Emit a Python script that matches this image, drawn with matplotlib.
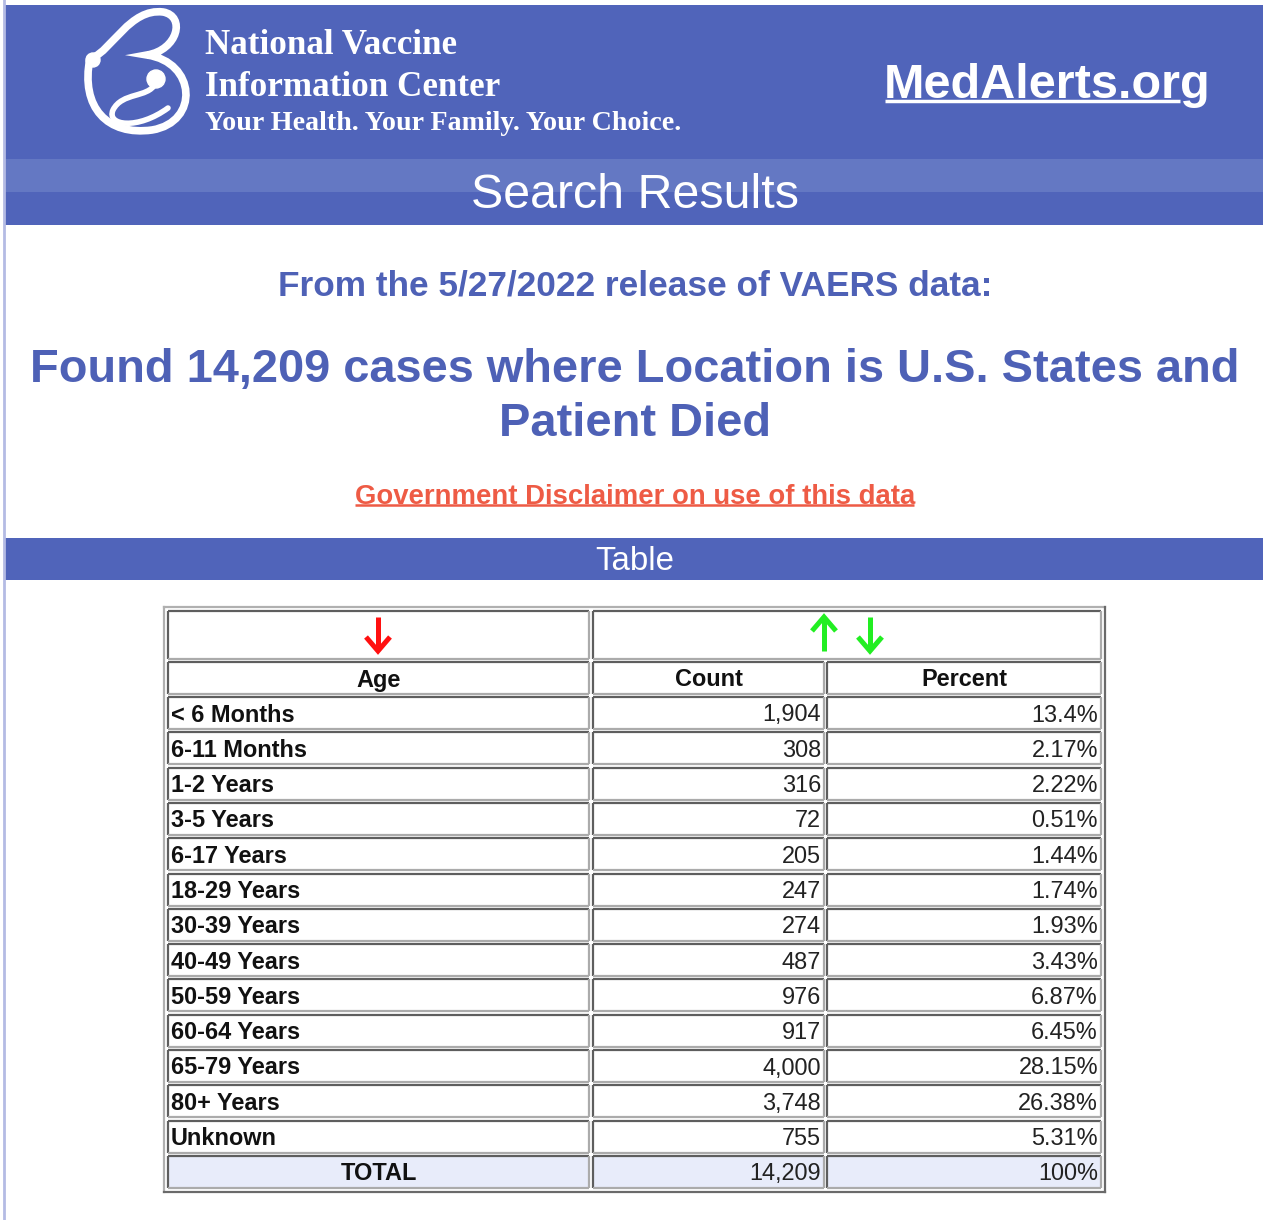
import matplotlib.pyplot as plt
from matplotlib.path import Path
from matplotlib.patches import PathPatch, Rectangle, Circle

# table data read from the page
ages = ["< 6 Months", "6-11 Months", "1-2 Years", "3-5 Years", "6-17 Years",
        "18-29 Years", "30-39 Years", "40-49 Years", "50-59 Years",
        "60-64 Years", "65-79 Years", "80+ Years", "Unknown"]
counts = [1904, 308, 316, 72, 205, 247, 274, 487, 976, 917, 4000, 3748, 755]
percents = [13.4, 2.17, 2.22, 0.51, 1.44, 1.74, 1.93, 3.43, 6.87, 6.45, 28.15, 26.38, 5.31]
total_count = 14209
total_percent = 100

release = "5/27/2022"
headline = ["Found 14,209 cases where Location is U.S. States and", "Patient Died"]

BLUE = "#5064BA"
BAND = "#6478C3"
HEAD_BLUE = "#4E61B6"
RED_LINK = "#EE5B45"
SANS = "Liberation Sans"
SERIF = "Liberation Serif"

W, H = 1263, 1220
fig = plt.figure(figsize=(W / 100, H / 100), dpi=100)
ax = fig.add_axes([0, 0, 1, 1])
ax.set_xlim(0, W)
ax.set_ylim(H, 0)
ax.axis("off")


def px(size):
    # pixel height -> points at dpi 100
    return size * 0.72


# page frame and header
ax.add_patch(Rectangle((4, 5), W - 4, 220, color=BLUE, lw=0))
ax.add_patch(Rectangle((4, 159), W - 4, 33, color=BAND, lw=0))
ax.plot([3.5, 3.5], [0, H], color="#B4BBE4", lw=2)

# logo, rough white strokes
verts = [(92, 58), (112, 50), (130, 8), (163, 12),
         (186, 16), (178, 50), (147, 55),
         (196, 62), (200, 122), (152, 130),
         (108, 136), (80, 108), (90, 58)]
codes = [Path.MOVETO] + [Path.CURVE4] * 12
ax.add_patch(PathPatch(Path(verts, codes), fill=False, ec="white", lw=5.5, capstyle="round"))
ax.add_patch(Circle((93, 60), 7, color="white"))
verts2 = [(155, 84), (148, 98), (122, 92), (113, 110),
          (106, 126), (138, 130), (168, 108)]
codes2 = [Path.MOVETO] + [Path.CURVE4] * 6
ax.add_patch(PathPatch(Path(verts2, codes2), fill=False, ec="white", lw=4, capstyle="round"))
ax.add_patch(Circle((156, 79), 9, color="white"))

ax.text(205, 46, "National Vaccine", family=SERIF, weight="bold", color="white",
        fontsize=px(35), va="center", ha="left")
ax.text(205, 87, "Information Center", family=SERIF, weight="bold", color="white",
        fontsize=px(35), va="center", ha="left")
ax.text(205, 123, "Your Health. Your Family. Your Choice.", family=SERIF, weight="bold",
        color="white", fontsize=px(28), va="center", ha="left")

ax.text(1047, 85, "MedAlerts.org", family=SANS, weight="bold", color="white",
        fontsize=px(48.6), va="center", ha="center")
ax.plot([885, 1180], [101, 101], color="white", lw=2.5, solid_capstyle="butt")

ax.text(635, 195, "Search Results", family=SANS, color="white",
        fontsize=px(48.4), va="center", ha="center")

# headings
ax.text(635, 286, f"From the {release} release of VAERS data:", family=SANS, weight="bold",
        color=HEAD_BLUE, fontsize=px(35.2), va="center", ha="center")
ax.text(635, 370, headline[0], family=SANS, weight="bold", color=HEAD_BLUE,
        fontsize=px(47), va="center", ha="center")
ax.text(635, 424, headline[1], family=SANS, weight="bold", color=HEAD_BLUE,
        fontsize=px(47), va="center", ha="center")
ax.text(635, 497, "Government Disclaimer on use of this data", family=SANS, weight="bold",
        color=RED_LINK, fontsize=px(27.5), va="center", ha="center")
ax.plot([355, 914], [505, 505], color=RED_LINK, lw=1.8, solid_capstyle="butt")

ax.add_patch(Rectangle((4, 538), W - 4, 42, color=BLUE, lw=0))
ax.text(635, 561, "Table", family=SANS, color="white", fontsize=px(33),
        va="center", ha="center")


# table
def cell(x0, y0, x1, y1, fill="white"):
    ax.add_patch(Rectangle((x0, y0), x1 - x0, y1 - y0, facecolor=fill, lw=0))
    ax.plot([x0, x1], [y0, y0], color="#5E5E5E", lw=1.6, solid_capstyle="butt")
    ax.plot([x0, x0], [y0, y1], color="#5E5E5E", lw=1.6, solid_capstyle="butt")
    ax.plot([x0, x1], [y1, y1], color="#ABABAB", lw=1.6, solid_capstyle="butt")
    ax.plot([x1, x1], [y0, y1], color="#ABABAB", lw=1.6, solid_capstyle="butt")


def sort_arrow(x, down, color):
    # thick arrow like the page's sort glyphs
    y_top, y_bot = 617, 651
    ax.plot([x, x], [y_top + (0 if down else 2), y_bot - (2 if down else 0)],
            color=color, lw=3.6, solid_capstyle="butt")
    tip = y_bot if down else y_top
    base = tip - 14 if down else tip + 14
    ax.plot([x - 12, x, x + 12], [base, tip, base], color=color, lw=3.6,
            solid_joinstyle="miter", solid_capstyle="butt")


tx0, tx1, ty0, ty1 = 164, 1105, 607, 1192
ax.plot([tx0, tx1], [ty0, ty0], color="#B0B0B0", lw=1.6)
ax.plot([tx0, tx0], [ty0, ty1], color="#B0B0B0", lw=1.6)
ax.plot([tx0, tx1], [ty1, ty1], color="#6A6A6A", lw=1.6)
ax.plot([tx1, tx1], [ty0, ty1], color="#6A6A6A", lw=1.6)

c0, c1, c2, c3 = (168, 589), (593, 824), (827, 1101), (593, 1101)
fs = px(23.5)

cell(c0[0], 611, c0[1], 659)
cell(c3[0], 611, c3[1], 659)
sort_arrow(378, True, "#FF1010")
sort_arrow(824, False, "#22EE22")
sort_arrow(870, True, "#22EE22")

for (a, b), label in zip([c0, c1, c2], ["Age", "Count", "Percent"]):
    cell(a, 662, b, 694)
    ax.text((a + b) / 2, 680, label, family=SANS, weight="bold", color="#111111",
            fontsize=fs, va="center", ha="center")

step = 35.3
for i, (age, cnt, pct) in enumerate(zip(ages, counts, percents)):
    top = 697 + step * i
    mid = top + 18
    for a, b in [c0, c1, c2]:
        cell(a, top, b, top + 32)
    ax.text(c0[0] + 3, mid, age, family=SANS, weight="bold", color="#111111",
            fontsize=fs, va="center", ha="left")
    ax.text(c1[1] - 3, mid, f"{cnt:,}", family=SANS, color="#222222",
            fontsize=fs, va="center", ha="right")
    ax.text(c2[1] - 3, mid, f"{pct:g}%", family=SANS, color="#222222",
            fontsize=fs, va="center", ha="right")

top = 697 + step * len(ages)
mid = top + 18
for a, b in [c0, c1, c2]:
    cell(a, top, b, top + 32, fill="#E8ECFA")
ax.text((c0[0] + c0[1]) / 2, mid, "TOTAL", family=SANS, weight="bold", color="#111111",
        fontsize=fs, va="center", ha="center")
ax.text(c1[1] - 3, mid, f"{total_count:,}", family=SANS, color="#222222",
        fontsize=fs, va="center", ha="right")
ax.text(c2[1] - 3, mid, f"{total_percent}%", family=SANS, color="#222222",
        fontsize=fs, va="center", ha="right")

fig.savefig("out.png", dpi=100)
